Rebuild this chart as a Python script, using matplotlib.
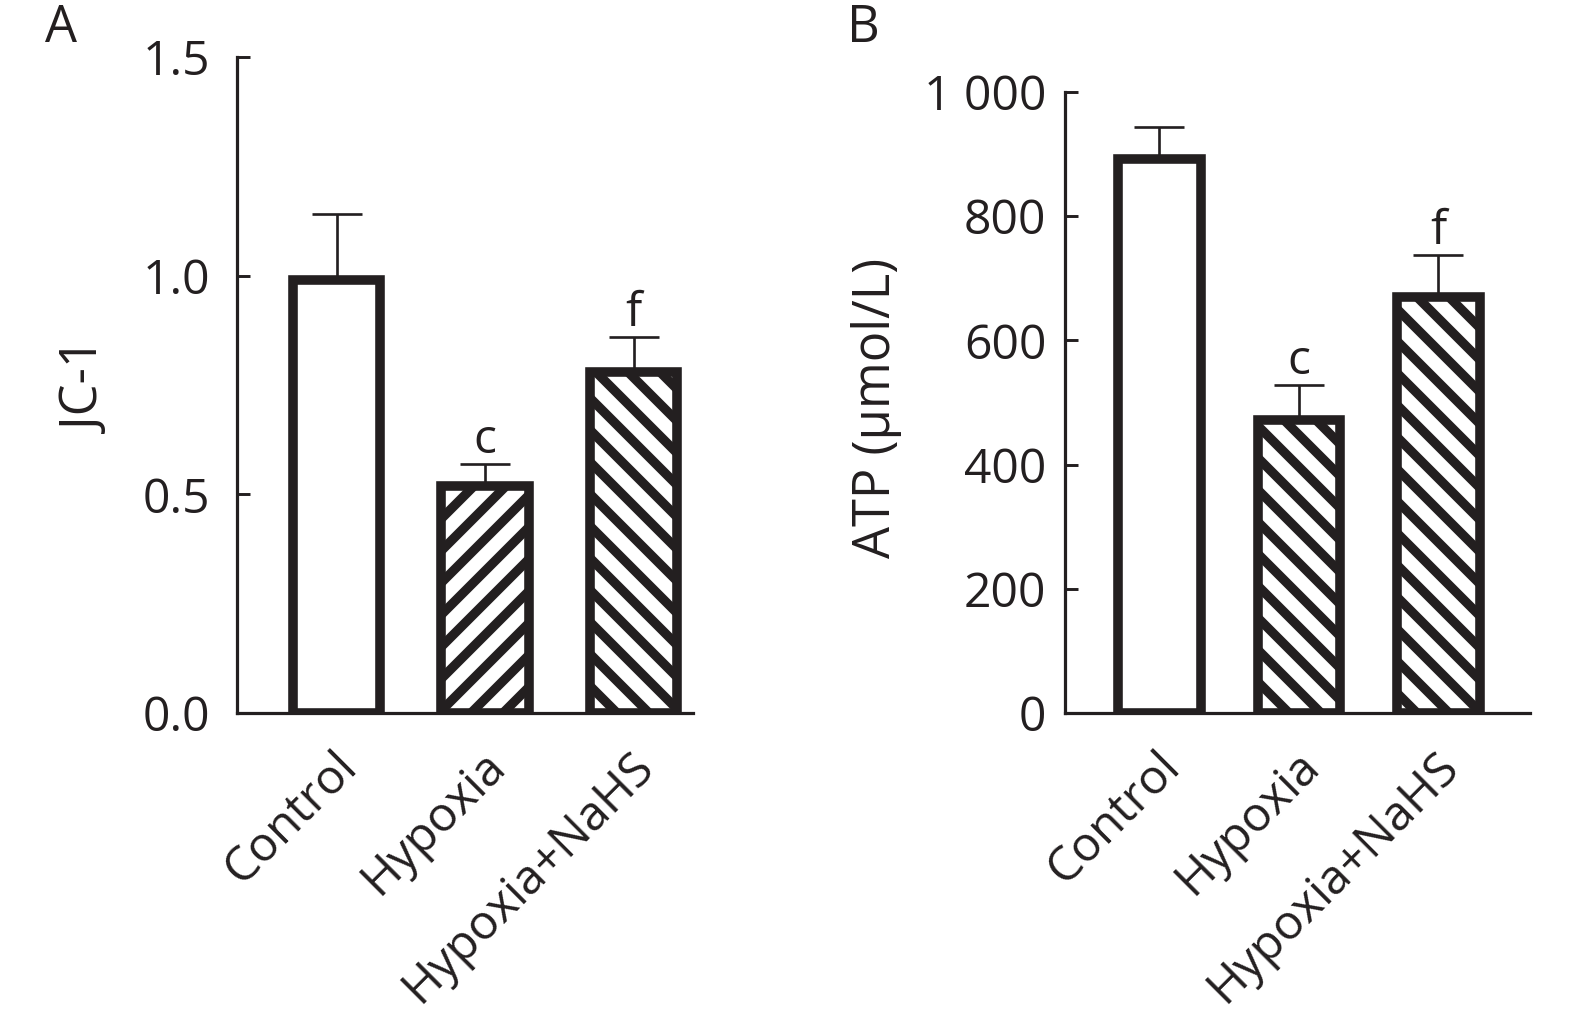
import matplotlib
matplotlib.use("Agg")
import matplotlib.pyplot as plt
from matplotlib.transforms import ScaledTranslation

DPI = 192
W, H = 1575, 1027
plt.rcParams['font.family'] = ['Open Sans', 'DejaVu Sans']
plt.rcParams['hatch.linewidth'] = 3.5
INK = '#231f20'

groups = ['Control', 'Hypoxia', 'Hypoxia+NaHS']

jc1_mean = [0.99, 0.52, 0.78]
jc1_err = [0.15, 0.05, 0.08]
jc1_hatch = ['', '//', '\\\\']
jc1_marks = ['', 'c', 'f']
jc1_ticks = [0.0, 0.5, 1.0, 1.5]
jc1_ticklabels = ['0.0', '0.5', '1.0', '1.5']

atp_mean = [892, 472, 670]
atp_err = [52, 56, 68]
atp_hatch = ['', '\\\\', '\\\\']
atp_marks = ['', 'c', 'f']
atp_ticks = [0, 200, 400, 600, 800, 1000]
atp_ticklabels = ['0', '200', '400', '600', '800', '1 000']

fig = plt.figure(figsize=(W / DPI, H / DPI), dpi=DPI)
fig.patch.set_facecolor('white')

FS = 18
FS_LAB = 19


def rect(x0, y0, x1, y1):
    return [x0 / W, 1 - y1 / H, (x1 - x0) / W, (y1 - y0) / H]


def panel(r, means, errs, hatches, marks, ticks, ticklabels, ylim, xlim, ypad,
          ylabel, ylab_xy, letter, letter_xy):
    ax = fig.add_axes(r)
    xs = list(range(len(groups)))
    bars = ax.bar(xs, means, width=0.59, color='white', edgecolor=INK,
                  linewidth=3.6, zorder=3)
    for b, h in zip(bars, hatches):
        if h:
            b.set_hatch(h)
    ax.errorbar(xs, means, yerr=[[0] * len(errs), errs], fmt='none', ecolor=INK,
                elinewidth=1.0, capsize=9.4, capthick=1.0, zorder=2)
    for xi, m, e, t in zip(xs, means, errs, marks):
        if t:
            ax.annotate(t, (xi, m + e), xytext=(0, 4), textcoords='offset points',
                        ha='center', va='baseline', fontsize=FS, color=INK)
    ax.set_ylim(*ylim)
    ax.set_xlim(*xlim)
    for s in ['top', 'right']:
        ax.spines[s].set_visible(False)
    for s in ['left', 'bottom']:
        ax.spines[s].set_linewidth(1.2)
        ax.spines[s].set_color(INK)
    ax.set_yticks(ticks, ticklabels)
    ax.tick_params(axis='y', direction='in', length=4.9, width=1.1, pad=ypad,
                   labelsize=FS, colors=INK)
    ax.set_xticks(xs, groups, rotation=45, ha='right', va='center',
                  rotation_mode='anchor')
    ax.tick_params(axis='x', length=0, pad=17.3, labelsize=FS, colors=INK)
    off = ScaledTranslation(13 / DPI, 0, fig.dpi_scale_trans)
    for lab in ax.get_xticklabels():
        lab.set_transform(lab.get_transform() + off)
    fig.text(ylab_xy[0] / W, 1 - ylab_xy[1] / H, ylabel, rotation=90,
             ha='center', va='center', fontsize=FS_LAB, color=INK)
    fig.text(letter_xy[0] / W, 1 - letter_xy[1] / H, letter,
             ha='center', va='center', fontsize=FS_LAB, color=INK)
    return ax


panel(rect(237, 57, 693, 713), jc1_mean, jc1_err, jc1_hatch, jc1_marks,
      jc1_ticks, jc1_ticklabels, (0, 1.5), (-0.67, 2.40), 10.0,
      'JC-1', (87, 388), 'A', (61, 29))
panel(rect(1065, 92, 1530, 713), atp_mean, atp_err, atp_hatch, atp_marks,
      atp_ticks, atp_ticklabels, (0, 1000), (-0.677, 2.656), 7.0,
      'ATP (µmol/L)', (877, 408), 'B', (863, 29))

fig.savefig('out.png', dpi=DPI, facecolor='white')
